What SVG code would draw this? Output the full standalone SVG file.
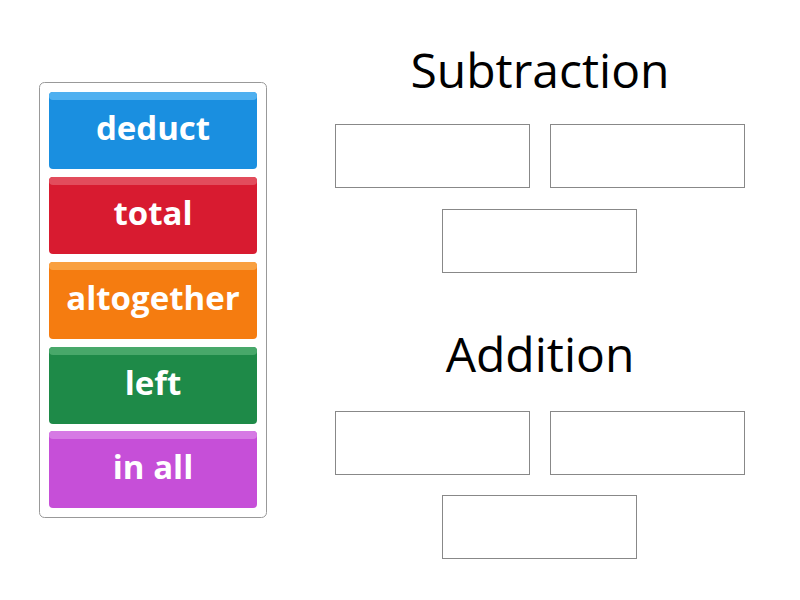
<svg xmlns="http://www.w3.org/2000/svg" width="800" height="600" viewBox="0 0 800 600">
<style>
.t{font-family:"Open Sans",sans-serif;font-weight:bold;font-size:33px;fill:#fff;text-anchor:middle}
.h{font-family:"Open Sans",sans-serif;font-size:48px;fill:#000;text-anchor:middle}
.slot{fill:#fff;stroke:#888;stroke-width:1}
</style>
<rect width="800" height="600" fill="#fff"/>
<rect x="39.5" y="82.5" width="227" height="435" rx="5" fill="#fff" stroke="#999"/>
<g id="deduct"><rect x="49" y="92" width="208" height="77" rx="4" fill="#1a8fe0"/><rect x="49" y="92" width="208" height="8" rx="4" fill="#4fb0f0"/><text class="t" x="153" y="140">deduct</text></g>
<g id="total"><rect x="49" y="177" width="208" height="77" rx="4" fill="#d81b30"/><rect x="49" y="177" width="208" height="8" rx="4" fill="#e24c5c"/><text class="t" x="153" y="225">total</text></g>
<g id="altogether"><rect x="49" y="262" width="208" height="77" rx="4" fill="#f57c10"/><rect x="49" y="262" width="208" height="8" rx="4" fill="#f9a040"/><text class="t" x="153" y="310">altogether</text></g>
<g id="left"><rect x="49" y="347" width="208" height="77" rx="4" fill="#1e8a48"/><rect x="49" y="347" width="208" height="8" rx="4" fill="#48a86a"/><text class="t" x="153" y="395">left</text></g>
<g id="inall"><rect x="49" y="431" width="208" height="77" rx="4" fill="#c64fd8"/><rect x="49" y="431" width="208" height="8" rx="4" fill="#d67ae4"/><text class="t" x="153" y="479">in all</text></g>
<g id="subtraction"><text class="h" x="540" y="88">Subtraction</text>
<rect class="slot" x="335.5" y="124.5" width="194" height="63"/><rect class="slot" x="550.5" y="124.5" width="194" height="63"/><rect class="slot" x="442.5" y="209.5" width="194" height="63"/></g>
<g id="addition"><text class="h" x="540" y="372">Addition</text>
<rect class="slot" x="335.5" y="411.5" width="194" height="63"/><rect class="slot" x="550.5" y="411.5" width="194" height="63"/><rect class="slot" x="442.5" y="495.5" width="194" height="63"/></g>
<g id="connectors"/>
</svg>
